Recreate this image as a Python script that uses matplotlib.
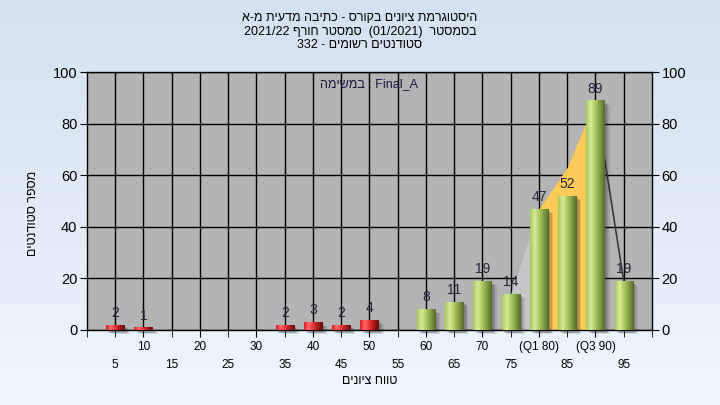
import matplotlib
matplotlib.use('Agg')
import matplotlib.pyplot as plt
import numpy as np
from matplotlib.colors import LinearSegmentedColormap

plt.rcParams['font.family'] = ['Liberation Sans', 'DejaVu Sans']

# grade ranges (bins) and number of students in each
categories = [5, 10, 15, 20, 25, 30, 35, 40, 45, 50, 55, 60, 65, 70, 75, 80, 85, 90, 95]
counts = [2, 1, 0, 0, 0, 0, 2, 3, 2, 4, 0, 8, 11, 19, 14, 47, 52, 89, 19]
tick_labels = ['5', '10', '15', '20', '25', '30', '35', '40', '45', '50', '55', '60',
               '65', '70', '75', '(Q1 80)', '85', '(Q3 90)', '95']
pass_grade = 55

# distribution outline drawn behind the bars (quartile area in orange)
curve_cats = [75, 80, 85, 90, 95]
curve_vals = [14, 47, 63, 89, 19]

# hebrew strings, written in visual (left to right) order
title_lines = ['א-מ תיעדמ הביתכ - סרוקב םינויצ תמרגוטסיה',
               '2021/22 ףרוח רטסמס  (01/2021)  רטסמסב',
               '332 - םימושר םיטנדוטס']
task_label = 'המישמב : Final_A'
x_title = 'םינויצ חווט'
y_title = 'םיטנדוטס רפסמ'

fig = plt.figure(figsize=(7.2, 4.05), dpi=100)

# light blue gradient background
bg = fig.add_axes([0, 0, 1, 1], zorder=-10)
bg_cmap = LinearSegmentedColormap.from_list('bg', ['#eff6fd', '#d3e1f2'])
bg.imshow(np.linspace(0, 1, 256).reshape(-1, 1)[::-1], cmap=bg_cmap, aspect='auto',
          extent=[0, 1, 0, 1], origin='upper')
bg.axis('off')

ax = fig.add_axes([0.1208, 0.1852, 0.7847, 0.637])
ax.set_facecolor('#b4b4b4')

pos = np.arange(1, len(categories) + 1)
width = 0.64

red_cmap = LinearSegmentedColormap.from_list(
    'red', ['#d82020', '#ff6a6a', '#e83030', '#a01818', '#6a0a0a'])
green_cmap = LinearSegmentedColormap.from_list(
    'green', ['#a6c85a', '#d6ec9a', '#a8c860', '#7e9a44', '#56682c'])
grad = np.linspace(0, 1, 100).reshape(1, -1)

# distribution area
cpos = [categories.index(c) + 1 for c in curve_cats]
ax.fill_between(cpos[:2], curve_vals[:2], color='#c6c6c6', zorder=2, lw=0)
ax.fill_between(cpos[1:4], curve_vals[1:4], color='#fecb58', zorder=2, lw=0)
ax.plot(cpos[3:], curve_vals[3:], color='#3a3a3a', lw=1.2, zorder=2)

for p, c, v in zip(pos, categories, counts):
    if v == 0:
        continue
    cmap = red_cmap if c < pass_grade else green_cmap
    # soft shadow
    for k, a in enumerate([0.16, 0.14, 0.12]):
        off = 0.08 + k * 0.05
        ax.bar(p + off, v, width, bottom=-1.0 - k * 0.3, color='#202020', alpha=a,
               zorder=3, lw=0, clip_on=False)
    bar = ax.bar(p, v, width, color='none', lw=0, zorder=4)[0]
    im = ax.imshow(grad, cmap=cmap, aspect='auto', zorder=4,
                   extent=[p - width / 2, p + width / 2, 0, v])
    im.set_clip_path(bar)
    ax.text(p, v + 4.6, str(v), ha='center', va='center', fontsize=10,
            color='#25253a', zorder=6)

ax.set_xlim(0, len(categories) + 1)
ax.set_ylim(0, 100)

# two rows of x tick labels
major = [p for p in pos if p % 2 == 0]
minor = [0] + [p for p in pos if p % 2 == 1] + [len(categories) + 1]
ax.set_xticks(major)
ax.set_xticklabels([tick_labels[p - 1] for p in major])
ax.set_xticks(minor, minor=True)
ax.set_xticklabels([''] + [tick_labels[p - 1] for p in minor[1:-1]] + [''], minor=True)
ax.tick_params(axis='x', which='major', length=5, pad=3, labelsize=8.5, color='black')
ax.tick_params(axis='x', which='minor', length=5, pad=16, labelsize=8.5, color='black')

ax.set_yticks(np.arange(0, 101, 20))
ax.tick_params(axis='y', length=5, labelsize=10.5, right=True, labelright=True, pad=2)

ax.grid(True, which='major', color='black', lw=1, zorder=1)
ax.set_axisbelow(True)
for p in minor[1:-1]:
    ax.axvline(p, color='black', lw=1, zorder=1)
for s in ax.spines.values():
    s.set_color('black')
    s.set_linewidth(1)

ax.text(0.5, 0.955, task_label, transform=ax.transAxes, ha='center', va='center',
        fontsize=9, color='#1e1440', zorder=6)

for i, line in enumerate(title_lines):
    fig.text(0.5, 1 - (18 + i * 13.5) / 405, line, ha='center', va='center', fontsize=9)

fig.text(370 / 720, 1 - 381 / 405, x_title, ha='center', va='center', fontsize=9)
fig.text(33 / 720, 1 - 213 / 405, y_title, ha='center', va='center', fontsize=9,
         rotation=90)

fig.savefig('out.png', dpi=100)
